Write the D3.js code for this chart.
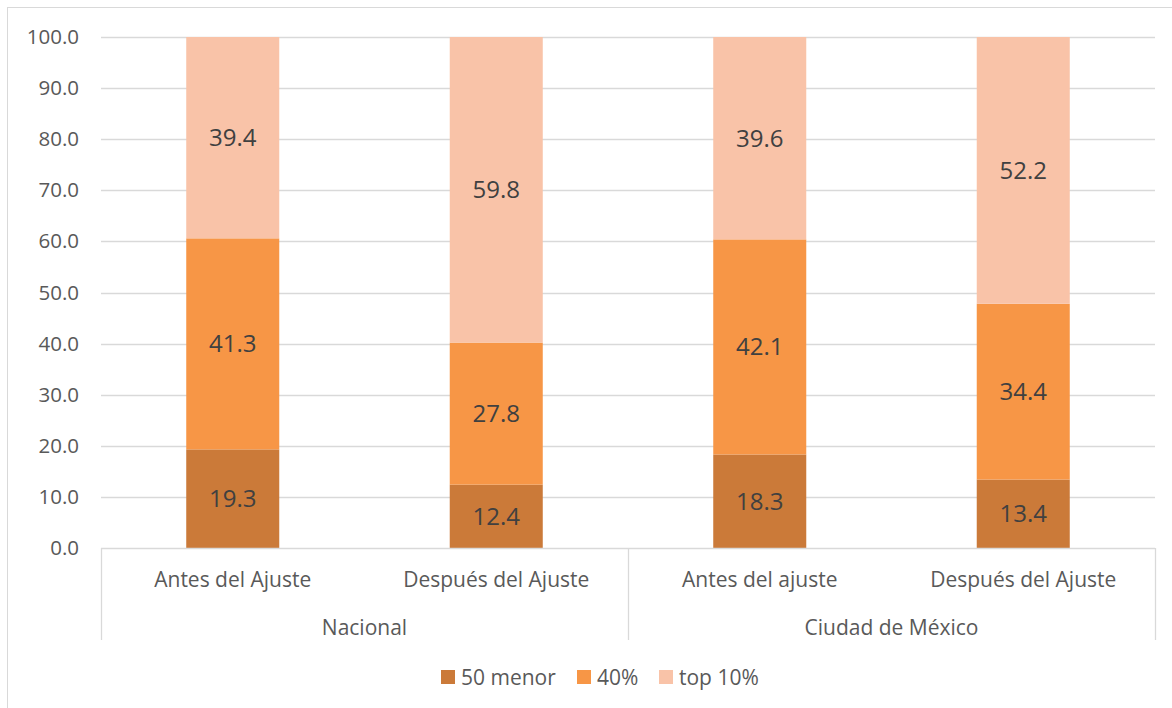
<!DOCTYPE html>
<html>
<head>
<meta charset="utf-8">
<script src="https://cdn.jsdelivr.net/npm/d3@7"></script>
<style>
  body { margin: 0; background: #fff; }
  svg text { font-family: "Open Sans", Lato, sans-serif; }
</style>
</head>
<body>
<svg id="chart" width="1172" height="708"></svg>
<script>
// data
var groups = ["Nacional", "Ciudad de México"];
var categories = ["Antes del Ajuste", "Después del Ajuste", "Antes del ajuste", "Después del Ajuste"];
var seriesNames = ["50 menor", "40%", "top 10%"];
var bottom50 = [19.3, 12.4, 18.3, 13.4];
var middle40 = [41.3, 27.8, 42.1, 34.4];
var top10 = [39.4, 59.8, 39.6, 52.2];
var yTicks = [0, 10, 20, 30, 40, 50, 60, 70, 80, 90, 100];

var colors = ["#CB7A39", "#F79646", "#F9C3A8"];

var svg = d3.select("#chart");

// outer frame
svg.append("rect")
  .attr("x", 7.5).attr("y", 7.5)
  .attr("width", 1180).attr("height", 710)
  .attr("fill", "none").attr("stroke", "#D9D9D9");

var plotLeft = 101, plotRight = 1155, plotTop = 37, plotBottom = 548;

var x = d3.scaleBand()
  .domain(d3.range(categories.length))
  .range([plotLeft, plotRight])
  .paddingInner(0.647).paddingOuter(0.3235);

var y = d3.scaleLinear().domain([0, 100]).range([plotBottom, plotTop]);

// gridlines
svg.append("g").selectAll("line")
  .data(yTicks.filter(function(d){ return d > 0; }))
  .enter().append("line")
  .attr("x1", plotLeft).attr("x2", plotRight)
  .attr("y1", function(d){ return Math.round(y(d)) + 0.5; })
  .attr("y2", function(d){ return Math.round(y(d)) + 0.5; })
  .attr("stroke", "#D9D9D9").attr("stroke-width", 1.3);

// y axis
var yAxis = svg.append("g")
  .attr("transform", "translate(" + (plotLeft - 22) + ",0)")
  .call(d3.axisLeft(y).tickValues(yTicks).tickFormat(d3.format(".1f")).tickSize(0).tickPadding(0));
yAxis.select(".domain").remove();
yAxis.selectAll("text")
  .attr("fill", "#595959")
  .style("font-size", "20.5px")
  .style("font-family", "'Open Sans', Lato, sans-serif");

// stacked bars
var rows = categories.map(function(c, i) {
  return { cat: i, "50 menor": bottom50[i], "40%": middle40[i], "top 10%": top10[i] };
});
var stacked = d3.stack().keys(seriesNames)(rows);

var layer = svg.append("g").selectAll("g")
  .data(stacked)
  .enter().append("g")
  .attr("fill", function(d, i){ return colors[i]; });

layer.selectAll("rect")
  .data(function(d){ return d; })
  .enter().append("rect")
  .attr("x", function(d){ return x(d.data.cat); })
  .attr("width", x.bandwidth())
  .attr("y", function(d){ return y(Math.min(d[1], 100)); })
  .attr("height", function(d){ return y(d[0]) - y(Math.min(d[1], 100)); });

layer.selectAll("text")
  .data(function(d){ return d; })
  .enter().append("text")
  .attr("x", function(d){ return x(d.data.cat) + x.bandwidth() / 2; })
  .attr("y", function(d){ return (y(d[0]) + y(Math.min(d[1], 100))) / 2; })
  .attr("dy", "0.35em")
  .attr("text-anchor", "middle")
  .attr("fill", "#404040")
  .style("font-size", "24px")
  .text(function(d){ return d3.format(".1f")(d[1] - d[0]); });

// x axis baseline
svg.append("line")
  .attr("x1", plotLeft).attr("x2", plotRight)
  .attr("y1", plotBottom + 0.5).attr("y2", plotBottom + 0.5)
  .attr("stroke", "#D9D9D9").attr("stroke-width", 1.3);

// group separators
var bandStep = x.step();
var sepX = [plotLeft, plotLeft + 2 * bandStep, plotRight];
svg.append("g").selectAll("line")
  .data(sepX)
  .enter().append("line")
  .attr("x1", function(d){ return Math.round(d) + 0.5; })
  .attr("x2", function(d){ return Math.round(d) + 0.5; })
  .attr("y1", plotBottom).attr("y2", 640)
  .attr("stroke", "#D9D9D9").attr("stroke-width", 1.3);

// category labels
svg.append("g").selectAll("text")
  .data(categories)
  .enter().append("text")
  .attr("x", function(d, i){ return x(i) + x.bandwidth() / 2; })
  .attr("y", 587)
  .attr("text-anchor", "middle")
  .attr("fill", "#595959")
  .style("font-size", "21px")
  .text(function(d){ return d; });

// group labels
svg.append("g").selectAll("text")
  .data(groups)
  .enter().append("text")
  .attr("x", function(d, i){ return plotLeft + bandStep * (2 * i + 1); })
  .attr("y", 635)
  .attr("text-anchor", "middle")
  .attr("fill", "#595959")
  .style("font-size", "21px")
  .text(function(d){ return d; });

// legend
var legendX = [441, 577, 659];
var legend = svg.append("g").selectAll("g")
  .data(seriesNames)
  .enter().append("g")
  .attr("transform", function(d, i){ return "translate(" + legendX[i] + ",670)"; });

legend.append("rect")
  .attr("width", 14).attr("height", 14)
  .attr("fill", function(d, i){ return colors[i]; });

legend.append("text")
  .attr("x", 20).attr("y", 14.5)
  .attr("fill", "#595959")
  .style("font-size", "21px")
  .text(function(d){ return d; });
</script>
</body>
</html>
